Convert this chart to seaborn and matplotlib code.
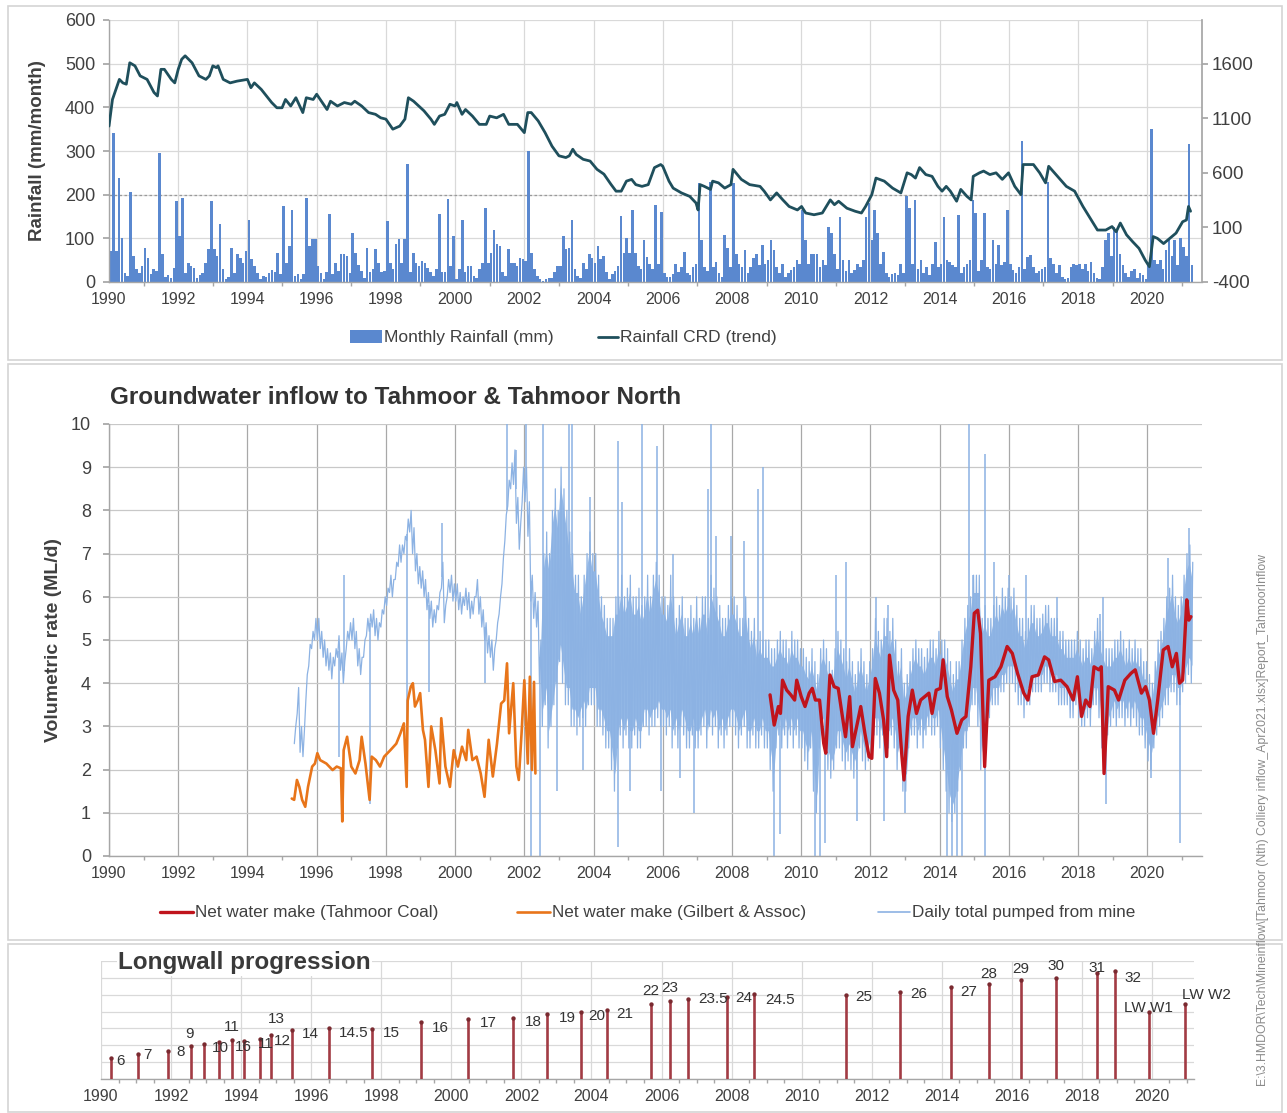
import numpy as np
import pandas as pd
import matplotlib
matplotlib.use("Agg")
import matplotlib.pyplot as plt
import seaborn as sns
from matplotlib.lines import Line2D
from matplotlib.patches import Rectangle

# ============================ DATA ============================
rain_first_year = 1990
rain_mm = [
    71, 342, 71, 239, 101, 21, 14, 205, 60, 29, 21, 37,      # 1990
    79, 56, 18, 29, 25, 296, 63, 12, 15, 10, 33, 185,        # 1991
    105, 193, 21, 44, 37, 33, 10, 15, 20, 44, 75, 185,       # 1992
    75, 60, 132, 30, 8, 12, 79, 20, 63, 56, 44, 71,          # 1993
    143, 52, 37, 20, 6, 14, 12, 20, 28, 22, 67, 18,          # 1994
    174, 44, 82, 166, 14, 18, 6, 18, 193, 82, 98, 98,        # 1995
    37, 20, 6, 22, 155, 18, 44, 25, 63, 63, 60, 20,          # 1996
    113, 67, 40, 25, 10, 79, 22, 30, 75, 44, 22, 25,         # 1997
    140, 44, 30, 86, 98, 44, 98, 270, 22, 67, 44, 37,        # 1998
    48, 44, 33, 22, 14, 30, 155, 22, 22, 190, 37, 105,       # 1999
    6, 30, 143, 22, 37, 37, 14, 10, 30, 44, 170, 44,         # 2000
    67, 120, 86, 82, 22, 14, 75, 44, 44, 37, 56, 52,         # 2001
    48, 300, 67, 30, 14, 6, 3, 6, 10, 10, 22, 37,            # 2002
    37, 105, 75, 79, 143, 30, 14, 10, 44, 30, 63, 56,        # 2003
    44, 82, 52, 60, 22, 6, 18, 25, 37, 151, 67, 101,         # 2004
    67, 166, 67, 37, 30, 96, 58, 42, 30, 177, 42, 160,       # 2005
    20, 12, 12, 18, 42, 22, 35, 69, 20, 15, 35, 42,          # 2006
    227, 96, 35, 25, 228, 35, 45, 20, 12, 108, 77, 35,       # 2007
    227, 65, 42, 35, 73, 20, 35, 55, 65, 40, 85, 42,         # 2008
    50, 96, 73, 35, 20, 42, 12, 20, 28, 35, 50, 42,          # 2009
    165, 96, 42, 65, 65, 65, 35, 50, 40, 127, 112, 65,       # 2010
    30, 150, 50, 25, 50, 20, 28, 42, 35, 50, 150, 180,       # 2011
    96, 165, 112, 42, 69, 20, 12, 18, 20, 15, 42, 20,        # 2012
    196, 169, 42, 188, 30, 50, 20, 35, 15, 42, 92, 35,       # 2013
    42, 150, 50, 45, 40, 35, 154, 20, 35, 42, 50, 188,       # 2014
    158, 25, 50, 158, 35, 30, 96, 42, 85, 40, 45, 165,       # 2015
    42, 28, 20, 35, 323, 30, 58, 62, 35, 20, 25, 30,         # 2016
    35, 230, 55, 42, 20, 38, 12, 8, 10, 35, 42, 38,          # 2017
    42, 30, 42, 25, 46, 20, 10, 8, 35, 96, 112, 60,          # 2018
    127, 119, 65, 38, 20, 12, 25, 30, 10, 20, 15, 8,         # 2019
    40, 350, 50, 42, 50, 30, 73, 96, 60, 96, 40, 100,        # 2020
    80, 60, 315, 40,                                         # 2021
]

crd_year = [
    1990.0, 1990.1, 1990.3, 1990.4, 1990.5, 1990.6, 1990.75, 1990.9, 1991.1, 1991.3,
    1991.4, 1991.5, 1991.6, 1991.8, 1991.9, 1992.0, 1992.1, 1992.2, 1992.4, 1992.6,
    1992.8, 1992.9, 1993.0, 1993.1, 1993.15, 1993.3, 1993.5, 1993.7, 1994.0, 1994.1,
    1994.2, 1994.4, 1994.7, 1994.85, 1995.0, 1995.1, 1995.25, 1995.4, 1995.6, 1995.7,
    1995.9, 1996.0, 1996.3, 1996.4, 1996.6, 1996.8, 1997.0, 1997.1, 1997.3, 1997.5,
    1997.7, 1997.85, 1998.0, 1998.2, 1998.4, 1998.55, 1998.65, 1998.8, 1999.1, 1999.3,
    1999.4, 1999.55, 1999.7, 1999.85, 2000.0, 2000.05, 2000.2, 2000.3, 2000.5, 2000.7,
    2000.9, 2001.0, 2001.2, 2001.4, 2001.55, 2001.8, 2002.0, 2002.1, 2002.2, 2002.4,
    2002.6, 2002.8, 2003.0, 2003.2, 2003.3, 2003.4, 2003.5, 2003.7, 2003.9, 2004.1,
    2004.3, 2004.5, 2004.65, 2004.8, 2004.95, 2005.1, 2005.22, 2005.4, 2005.58, 2005.76,
    2005.94, 2006.0, 2006.18, 2006.3, 2006.54, 2006.78, 2006.96, 2007.02, 2007.08, 2007.2,
    2007.38, 2007.44, 2007.61, 2007.79, 2007.97, 2008.03, 2008.27, 2008.51, 2008.81, 2008.93,
    2009.11, 2009.29, 2009.47, 2009.65, 2009.89, 2010.01, 2010.13, 2010.37, 2010.61, 2010.84,
    2010.96, 2011.08, 2011.32, 2011.56, 2011.74, 2011.86, 2012.04, 2012.16, 2012.4, 2012.64,
    2012.88, 2013.06, 2013.18, 2013.3, 2013.42, 2013.6, 2013.78, 2013.95, 2014.07, 2014.19,
    2014.31, 2014.49, 2014.61, 2014.79, 2014.91, 2014.97, 2015.15, 2015.27, 2015.45, 2015.63,
    2015.81, 2015.99, 2016.17, 2016.35, 2016.41, 2016.71, 2016.89, 2017.06, 2017.15, 2017.36,
    2017.66, 2017.9, 2018.14, 2018.38, 2018.56, 2018.8, 2018.98, 2019.1, 2019.22, 2019.4,
    2019.58, 2019.76, 2019.94, 2020.06, 2020.17, 2020.29, 2020.47, 2020.65, 2020.83, 2021.02,
    2021.13, 2021.19, 2021.25,
]
crd_mm = [
    1028, 1272, 1456, 1424, 1412, 1608, 1580, 1488, 1456, 1336,
    1304, 1548, 1548, 1456, 1424, 1548, 1640, 1672, 1608, 1488,
    1456, 1488, 1580, 1564, 1580, 1456, 1424, 1440, 1456, 1380,
    1424, 1364, 1244, 1196, 1196, 1272, 1212, 1288, 1152, 1288,
    1272, 1320, 1180, 1256, 1212, 1244, 1228, 1256, 1212, 1152,
    1136, 1104, 1092, 1000, 1028, 1092, 1288, 1256, 1168, 1092,
    1044, 1120, 1136, 1228, 1212, 1244, 1136, 1180, 1120, 1044,
    1044, 1120, 1104, 1136, 1044, 1044, 968, 1152, 1152, 1076,
    968, 844, 756, 740, 756, 816, 768, 724, 708, 632,
    588, 496, 432, 432, 524, 540, 492, 476, 492, 648,
    676, 660, 524, 460, 416, 384, 324, 260, 492, 476,
    448, 524, 508, 460, 492, 632, 540, 492, 476, 432,
    352, 416, 352, 292, 260, 292, 232, 216, 232, 352,
    308, 340, 276, 248, 232, 292, 400, 552, 524, 460,
    416, 600, 584, 552, 648, 584, 568, 476, 432, 476,
    432, 340, 448, 384, 352, 568, 600, 616, 584, 600,
    540, 600, 476, 400, 676, 676, 600, 508, 660, 584,
    476, 432, 292, 168, 76, 76, 108, 60, 140, 32,
    -32, -92, -200, -260, 16, 0, -48, 0, 48, 152,
    168, 292, 248,
]

# Daily total pumped: monthly low / high envelope from May 1995 to Apr 2021
daily_first_year, daily_first_month = 1995, 5
daily_lo = [
    2.6, 3.3, 2.4, 2.3, 3.6, 4.4, 4.8, 5.0,
    5.0, 4.8, 4.6, 4.4, 4.3, 4.1, 4.4, 4.6, 4.3, 4.0, 4.8, 5.0,
    5.0, 4.8, 4.4, 4.2, 4.6, 5.1, 5.2, 5.3, 5.1, 5.0, 5.3, 5.6,
    5.8, 6.1, 6.0, 6.4, 6.7, 6.8, 7.0, 7.3, 7.5, 7.0, 6.6, 6.3,
    6.2, 6.0, 5.7, 5.5, 5.3, 5.4, 5.7, 6.2, 5.4, 6.0, 6.1, 5.9,
    5.9, 5.7, 5.6, 5.8, 5.7, 5.5, 5.6, 6.0, 5.6, 5.3, 5.0, 4.7,
    4.6, 4.3, 5.0, 5.6, 6.3, 7.3, 8.1, 8.5, 8.6, 7.7, 7.1, 8.2,
    8.2, 7.4, 5.9, 5.5, 5.3, 4.0, 3.0, 3.5, 2.5, 3.0, 3.5, 4.0,
    4.5, 4.0, 3.5, 3.5, 3.0, 3.0, 2.8, 3.0, 3.2, 3.0, 3.5, 3.5,
    3.5, 3.0, 3.0, 2.8, 2.5, 2.5, 2.0, 1.5, 2.5, 2.8, 2.5, 2.8,
    2.5, 2.5, 2.8, 2.5, 2.5, 3.0, 3.0, 2.8, 3.0, 3.0, 3.2, 3.0,
    3.0, 2.8, 3.0, 2.5, 2.8, 2.5, 3.0, 2.8, 2.5, 2.5, 2.8, 2.5,
    2.5, 2.8, 3.0, 2.5, 3.0, 2.8, 3.0, 2.5, 2.8, 2.5, 2.8, 3.0,
    3.0, 2.8, 2.5, 2.8, 3.0, 2.5, 2.5, 2.8, 2.5, 2.5, 2.8, 2.5,
    2.5, 2.0, 1.5, 2.5, 2.8, 2.5, 2.8, 2.5, 2.8, 2.5, 2.8, 2.5,
    2.5, 2.2, 2.0, 2.5, 1.5, 1.0, 2.5, 2.8, 2.5, 2.0, 1.8, 2.0,
    2.5, 2.5, 2.2, 2.0, 2.2, 2.0, 1.8, 2.0, 2.5, 2.2, 2.0, 2.2,
    2.5, 2.8, 2.8, 2.5, 2.8, 2.5, 2.5, 2.8, 2.5, 2.0, 2.5, 1.5,
    1.5, 2.5, 2.8, 2.8, 2.5, 2.8, 2.5, 2.8, 3.0, 2.8, 2.8, 3.0,
    2.5, 2.0, 1.5, 1.0, 0.8, 1.0, 1.5, 2.0, 2.5, 2.5, 3.0, 3.5,
    3.5, 3.0, 2.0, 2.5, 3.0, 3.2, 3.5, 3.5, 3.5, 3.8, 3.8, 4.0,
    4.0, 4.0, 3.8, 3.5, 3.5, 3.2, 3.5, 3.5, 3.8, 3.8, 3.8, 3.8,
    4.0, 4.0, 3.8, 3.8, 3.8, 3.5, 3.5, 3.5, 3.5, 3.2, 3.2, 3.5,
    3.2, 3.0, 3.0, 3.2, 3.0, 3.5, 3.5, 3.2, 2.5, 2.0, 2.8, 3.0,
    3.2, 3.0, 3.2, 3.2, 3.0, 3.2, 3.0, 3.2, 3.0, 2.8, 2.8, 2.5,
    2.2, 2.0, 2.5, 2.8, 3.0, 3.2, 3.5, 3.5, 3.8, 3.8, 3.5, 3.5,
    3.8, 4.0, 4.2, 4.0,
]
daily_hi = [
    3.0, 3.9, 3.0, 2.9, 4.2, 4.9, 5.2, 5.5,
    5.5, 5.2, 5.0, 4.8, 4.7, 4.6, 4.8, 5.1, 4.7, 4.5, 5.2, 5.4,
    5.5, 5.2, 4.8, 4.6, 5.0, 5.5, 5.6, 5.7, 5.5, 5.4, 5.7, 6.0,
    6.2, 6.5, 6.4, 6.8, 7.2, 7.2, 7.4, 7.8, 8.0, 7.6, 7.0, 6.7,
    6.6, 6.4, 6.1, 5.9, 5.7, 5.8, 6.1, 6.8, 5.8, 6.4, 6.5, 6.3,
    6.3, 6.1, 6.0, 6.2, 6.1, 5.9, 6.0, 6.4, 6.0, 5.7, 5.4, 5.1,
    5.0, 4.8, 5.4, 6.0, 6.9, 7.9, 8.7, 9.1, 9.4, 8.3, 7.7, 9.0,
    9.0, 8.2, 6.5, 6.1, 5.9, 5.0, 7.0, 7.5, 7.0, 8.0, 8.5, 8.0,
    9.0, 8.5, 8.0, 7.5, 7.0, 6.5, 6.5, 6.0, 6.5, 7.0, 7.5, 7.0,
    7.0, 6.5, 6.0, 5.8, 5.5, 5.5, 5.5, 6.0, 6.0, 6.5, 6.0, 6.2,
    6.5, 6.0, 6.0, 6.2, 5.8, 6.0, 6.5, 6.0, 6.5, 6.8, 6.5, 6.0,
    6.0, 5.8, 6.5, 6.0, 5.5, 5.8, 6.0, 5.5, 5.5, 5.8, 5.5, 6.0,
    5.5, 6.0, 6.0, 5.5, 6.5, 6.2, 6.0, 5.8, 5.5, 5.5, 5.8, 6.0,
    6.0, 5.8, 5.5, 5.5, 6.0, 5.5, 5.2, 5.5, 5.0, 5.2, 5.0, 5.0,
    5.0, 4.8, 4.8, 5.0, 5.2, 5.0, 5.0, 4.8, 5.2, 5.0, 5.0, 4.8,
    4.8, 4.6, 4.5, 4.8, 4.5, 4.2, 4.8, 5.0, 4.8, 4.5, 4.3, 4.8,
    5.2, 5.0, 4.8, 4.5, 4.8, 4.5, 4.2, 4.5, 4.8, 4.5, 4.2, 4.5,
    4.8, 5.5, 5.2, 5.0, 5.5, 5.5, 5.2, 5.5, 5.0, 4.5, 4.8, 4.0,
    4.2, 4.5, 4.8, 5.0, 4.8, 4.8, 4.6, 4.8, 5.0, 5.0, 4.8, 5.2,
    5.0, 5.0, 4.8, 4.5, 4.2, 4.5, 4.5, 5.0, 5.5, 5.8, 6.0, 6.5,
    6.5, 6.5, 5.5, 5.8, 5.5, 5.5, 5.8, 6.0, 5.8, 6.2, 6.0, 6.2,
    6.0, 6.2, 5.8, 5.5, 5.5, 5.2, 5.5, 5.8, 5.8, 5.5, 5.5, 5.6,
    5.8, 5.8, 5.5, 5.5, 5.5, 5.2, 5.2, 5.0, 5.0, 5.0, 5.0, 5.2,
    5.0, 4.8, 5.0, 5.0, 4.8, 5.2, 5.5, 5.2, 5.0, 4.8, 4.8, 4.8,
    5.0, 5.0, 5.2, 5.0, 4.8, 5.0, 4.8, 5.0, 4.8, 4.8, 4.5, 4.5,
    4.2, 4.0, 4.5, 5.0, 5.2, 5.5, 6.0, 6.2, 6.5, 6.0, 5.8, 6.0,
    6.5, 7.0, 7.2, 6.8,
]
spike_year = [
    1996.65, 1996.78, 1997.53, 1998.60, 1999.25, 1999.62, 2000.85, 2001.50, 2001.75, 2002.05,
    2002.20, 2002.45, 2002.55, 2002.95, 2003.28, 2003.38, 2003.70, 2003.90, 2004.70, 2004.72,
    2004.82, 2005.05, 2005.40, 2005.82, 2005.95, 2006.30, 2006.50, 2006.90, 2007.30, 2007.38,
    2007.55, 2007.97, 2008.36, 2008.75, 2008.90, 2009.20, 2009.40, 2010.40, 2010.55, 2010.70,
    2011.00, 2011.30, 2011.60, 2012.15, 2012.40, 2012.50, 2013.00, 2014.20, 2014.35, 2014.50,
    2014.65, 2014.85, 2014.95, 2015.30, 2015.32, 2015.57, 2016.00, 2016.50, 2017.40, 2018.62,
    2018.73, 2018.80, 2020.10, 2020.60, 2020.95, 2021.20,
]
spike_val = [
    2.3, 6.5, 1.2, 1.6, 3.8, 7.7, 4.0, 10.0, 9.4, 10.0,
    0.0, 0.0, 10.0, 1.5, 10.0, 10.0, 2.0, 8.3, 9.6, 0.2,
    8.2, 1.5, 10.0, 9.5, 1.5, 7.0, 1.8, 1.0, 8.5, 10.0,
    7.4, 7.4, 7.3, 8.5, 9.0, 0.0, 0.5, 0.0, 0.0, 0.3,
    6.5, 6.8, 0.8, 6.0, 0.8, 5.8, 1.0, 0.0, 0.0, 0.0,
    0.0, 10.0, 6.5, 9.3, 0.0, 6.8, 6.5, 6.5, 6.0, 5.6,
    6.0, 1.2, 1.8, 6.9, 0.3, 7.6,
]

gilbert_year = [
    1995.28, 1995.35, 1995.43, 1995.50, 1995.58, 1995.67, 1995.75, 1995.87, 1995.95, 1996.02,
    1996.10, 1996.28, 1996.46, 1996.58, 1996.70, 1996.74, 1996.78, 1996.88, 1997.00, 1997.12,
    1997.24, 1997.30, 1997.41, 1997.53, 1997.59, 1997.71, 1997.83, 1997.95, 1998.13, 1998.30,
    1998.42, 1998.52, 1998.60, 1998.63, 1998.72, 1998.78, 1998.84, 1998.92, 1998.99, 1999.07,
    1999.13, 1999.23, 1999.31, 1999.43, 1999.55, 1999.60, 1999.72, 1999.85, 1999.96, 2000.08,
    2000.20, 2000.32, 2000.38, 2000.50, 2000.62, 2000.74, 2000.85, 2000.97, 2001.09, 2001.21,
    2001.33, 2001.42, 2001.50, 2001.56, 2001.68, 2001.77, 2001.84, 2001.92, 2002.00, 2002.10,
    2002.16, 2002.22, 2002.28, 2002.32,
]
gilbert_val = [
    1.33, 1.30, 1.76, 1.60, 1.30, 1.14, 1.60, 2.07, 2.14, 2.38,
    2.22, 2.14, 1.99, 2.07, 2.03, 0.80, 2.45, 2.76, 2.07, 1.91,
    2.22, 2.76, 2.14, 1.30, 2.30, 2.22, 2.07, 2.30, 2.45, 2.60,
    2.84, 3.07, 1.60, 3.60, 3.92, 4.00, 3.46, 3.60, 3.77, 2.92,
    2.69, 1.60, 3.00, 2.45, 1.68, 3.19, 2.07, 1.60, 2.45, 2.07,
    2.53, 2.22, 2.92, 2.22, 2.30, 1.91, 1.37, 2.69, 1.84, 2.60,
    3.53, 3.60, 4.46, 2.84, 4.00, 2.07, 1.76, 2.84, 4.07, 2.14,
    4.15, 1.99, 4.03, 1.91,
]

tahmoor_year = [
    2009.10, 2009.22, 2009.34, 2009.40, 2009.46, 2009.58, 2009.70, 2009.81, 2009.87, 2010.00,
    2010.11, 2010.23, 2010.32, 2010.41, 2010.53, 2010.65, 2010.71, 2010.83, 2010.95, 2011.07,
    2011.19, 2011.28, 2011.40, 2011.48, 2011.60, 2011.72, 2011.84, 2011.96, 2012.04, 2012.14,
    2012.26, 2012.38, 2012.47, 2012.55, 2012.67, 2012.79, 2012.91, 2012.97, 2013.09, 2013.21,
    2013.33, 2013.45, 2013.57, 2013.69, 2013.78, 2013.90, 2014.02, 2014.10, 2014.22, 2014.34,
    2014.50, 2014.64, 2014.76, 2014.90, 2015.00, 2015.10, 2015.18, 2015.30, 2015.42, 2015.60,
    2015.77, 2015.95, 2016.10, 2016.25, 2016.43, 2016.55, 2016.67, 2016.85, 2017.03, 2017.15,
    2017.32, 2017.50, 2017.68, 2017.86, 2017.98, 2018.10, 2018.22, 2018.34, 2018.46, 2018.60,
    2018.67, 2018.75, 2018.87, 2019.05, 2019.17, 2019.35, 2019.53, 2019.65, 2019.83, 2019.95,
    2020.06, 2020.18, 2020.30, 2020.46, 2020.60, 2020.72, 2020.84, 2020.93, 2021.02, 2021.14,
    2021.20, 2021.26,
]
tahmoor_val = [
    3.73, 3.03, 3.46, 3.30, 4.07, 3.84, 3.73, 3.61, 4.07, 3.69,
    3.46, 3.77, 3.88, 3.61, 3.61, 2.61, 2.38, 4.19, 3.92, 3.88,
    3.23, 2.76, 3.69, 2.53, 2.99, 3.46, 2.84, 2.30, 2.26, 4.11,
    3.77, 3.15, 2.30, 4.65, 3.84, 3.61, 2.30, 1.76, 3.23, 3.84,
    3.30, 3.61, 3.69, 3.77, 3.30, 3.84, 3.88, 4.54, 3.69, 3.38,
    2.84, 3.15, 3.23, 4.38, 5.62, 5.69, 5.15, 2.07, 4.07, 4.15,
    4.38, 4.85, 4.69, 4.23, 3.77, 3.61, 4.15, 4.19, 4.61, 4.54,
    4.04, 4.07, 3.92, 3.61, 4.15, 3.23, 3.61, 3.46, 4.38, 4.31,
    4.38, 1.91, 3.92, 3.84, 3.61, 4.07, 4.23, 4.31, 3.77, 3.92,
    3.61, 2.84, 3.61, 4.77, 4.85, 4.38, 4.69, 4.00, 4.07, 5.93,
    5.46, 5.54,
]

lw_year = [
    1990.29, 1991.06, 1991.92, 1992.58, 1992.94, 1993.38, 1993.73, 1994.07, 1994.53, 1994.86,
    1995.46, 1996.50, 1997.73, 1999.13, 2000.49, 2001.77, 2002.74, 2003.70, 2004.43, 2005.70,
    2006.23, 2006.77, 2007.87, 2008.63, 2011.26, 2012.81, 2014.26, 2015.35, 2016.26, 2017.25,
    2018.42, 2018.95, 2019.91, 2020.94,
]
lw_height = [
    6.3, 7.5, 8.4, 9.7, 10.4, 11.0, 11.5, 11.3, 12.0, 13.0,
    14.6, 15.0, 14.9, 16.8, 17.7, 18.2, 19.4, 19.9, 20.4, 22.3,
    23.0, 23.6, 24.3, 25.2, 24.8, 25.9, 27.4, 28.2, 29.4, 30.1,
    31.4, 32.0, 19.9, 22.3,
]
lw_label = [
    "6", "7", "8", "9", "10", "11", "16", "11", "13", "12",
    "14", "14.5", "15", "16", "17", "18", "19", "20", "21", "22",
    "23", "23.5", "24", "24.5", "25", "26", "27", "28", "29", "30",
    "31", "32", "LW W1", "LW W2",
]

year_ticks = list(range(1990, 2021, 2))
rain_ticks = [0, 100, 200, 300, 400, 500, 600]
crd_ticks = [-400, 100, 600, 1100, 1600]
rate_ticks = list(range(0, 11))

# ============================ STYLE ============================
sns.set_theme(style="white")
plt.rcParams['font.family'] = ['Liberation Sans', 'DejaVu Sans']
plt.rcParams['axes.unicode_minus'] = False
TXT = '#404040'
GRID = '#D9D9D9'
SPINE = '#A6A6A6'
BAR_C = '#5A88CF'
CRD_C = '#1F4F5C'
DAILY_C = '#8CB2E3'
GIL_C = '#E8751A'
TAH_C = '#C0141C'
STEM_C = '#A23B44'

# label offsets for longwall labels (points) & alignment
lw_label_style = [
    (4, -2, 'left'), (4, -1, 'left'), (6, -1, 'left'), (-1, 9, 'center'), (6, -3, 'left'),
    (9, 11, 'center'), (2, -5, 'left'), (10, -2, 'left'), (12, 14, 'center'), (2, -4, 'left'),
    (7, -3, 'left'), (7, -3, 'left'), (8, -3, 'left'), (8, -4, 'left'), (8, -3, 'left'),
    (8, -3, 'left'), (8, -3, 'left'), (5, -3, 'left'), (7, -3, 'left'), (0, 9, 'center'),
    (0, 10, 'center'), (7, 0, 'left'), (6, -1, 'left'), (8, -4, 'left'), (7, -1, 'left'),
    (7, -2, 'left'), (7, -4, 'left'), (0, 7, 'center'), (0, 8, 'center'), (0, 8, 'center'),
    (0, 4, 'center'), (7, -5, 'left'), (0, 3, 'center'), (-2, 6, 'left'),
]

W, H = 1287, 1113
fig = plt.figure(figsize=(W / 100, H / 100), dpi=100)
fig.patch.set_facecolor('white')


def rect(l, t, r, b):
    return [l / W, 1 - b / H, (r - l) / W, (b - t) / H]


def style_axis(ax, xlim, ylab_size=13, ypad=5):
    ax.set_xlim(*xlim)
    ax.set_xticks(year_ticks)
    ax.set_xticklabels([str(y) for y in year_ticks])
    ax.set_xticks(np.arange(1990, 2022, 1), minor=True)
    ax.tick_params(axis='x', which='major', length=4, color=SPINE, labelsize=11.5,
                   labelcolor=TXT, pad=3)
    ax.tick_params(axis='x', which='minor', length=3, color=SPINE, bottom=True)
    ax.tick_params(axis='y', length=4, color=SPINE, labelsize=ylab_size, labelcolor=TXT,
                   left=True, pad=ypad)
    for s in ['top', 'right']:
        ax.spines[s].set_visible(False)
    for s in ['left', 'bottom']:
        ax.spines[s].set_color(SPINE)
        ax.spines[s].set_linewidth(1)
    ax.set_facecolor('none')
    ax.set_axisbelow(True)


# panel frames
for (l, t, r, b) in [(8, 6, 1282, 360), (8, 364, 1282, 940), (8, 944, 1282, 1112)]:
    fig.add_artist(Rectangle((l / W, 1 - b / H), (r - l) / W, (b - t) / H,
                             transform=fig.transFigure, fill=False,
                             edgecolor='#D4D4D4', lw=1.2))

# ---------------------------- TOP PANEL ----------------------------
ax1 = fig.add_axes(rect(109, 20, 1202, 282))
style_axis(ax1, (1990, 2021.58), ylab_size=13, ypad=6)
n_rain = len(rain_mm)
rain_x = rain_first_year + (np.arange(n_rain) + 0.5) / 12.0
ax1.bar(rain_x, rain_mm, width=0.075, color=BAR_C, linewidth=0, zorder=2)
ax1.set_ylim(0, 600)
ax1.set_yticks(rain_ticks)
ax1.grid(True, axis='both', color=GRID, lw=0.9)
ax1.axhline(200, color='#9A9A9A', lw=0.9, ls=(0, (2, 2)), zorder=1)
ax1.set_ylabel('Rainfall (mm/month)', fontsize=13.5, fontweight='bold', color=TXT)
ax1.yaxis.set_label_coords(-0.058, 0.5)

ax1r = ax1.twinx()
ax1r.set_xlim(1990, 2021.58)
sns.lineplot(x=crd_year, y=crd_mm, ax=ax1r, color=CRD_C, lw=2.0, sort=False,
             estimator=None)
ax1r.set_ylim(-400, 2000)
ax1r.set_yticks(crd_ticks)
ax1r.tick_params(axis='y', length=4, color=SPINE, labelsize=13.5, labelcolor=TXT,
                 right=True, pad=3)
for s in ['top', 'left', 'bottom']:
    ax1r.spines[s].set_visible(False)
ax1r.spines['right'].set_color(SPINE)
ax1r.set_ylabel('')
ax1r.grid(False)

# top legend
fig.add_artist(Rectangle((350 / W, 1 - 343 / H), 32 / W, 13 / H, transform=fig.transFigure,
                         color=BAR_C, lw=0))
fig.text(384 / W, 1 - 337 / H, 'Monthly Rainfall (mm)', fontsize=12.5, color=TXT,
         va='center', ha='left')
fig.add_artist(Line2D([598 / W, 618 / W], [1 - 337 / H, 1 - 337 / H], color=CRD_C, lw=2,
                      transform=fig.transFigure))
fig.text(620 / W, 1 - 337 / H, 'Rainfall CRD (trend)', fontsize=12.5, color=TXT,
         va='center', ha='left')

# ---------------------------- MIDDLE PANEL ----------------------------
ax2 = fig.add_axes(rect(109, 424, 1202, 856))
style_axis(ax2, (1990, 2021.58), ylab_size=13, ypad=9)
ax2.set_ylim(0, 10)
ax2.set_yticks(rate_ticks)
ax2.grid(True, axis='y', color='#C8C8C8', lw=0.9)
ax2.grid(True, axis='x', color='#A8A8A8', lw=0.9)

n_d = len(daily_lo)
m0 = daily_first_year + (daily_first_month - 1) / 12.0
t_month = m0 + np.arange(n_d) / 12.0
zig_x = np.column_stack([t_month + 0.25 / 12, t_month + 0.75 / 12]).ravel()
zig_y = np.column_stack([daily_lo, daily_hi]).ravel()
daily_df = pd.DataFrame({'year': zig_x, 'rate': zig_y})
dense = t_month >= 2002.4
ax2.fill_between(t_month[dense] + 0.5 / 12, np.array(daily_lo)[dense] + 0.4,
                 np.array(daily_hi)[dense] - 0.4, color='#93B8E6', lw=0, zorder=2)
sns.lineplot(data=daily_df, x='year', y='rate', ax=ax2, color=DAILY_C, lw=0.9,
             sort=False, estimator=None, zorder=2)
mid_band = (np.array(daily_lo) + np.array(daily_hi)) / 2.0
spike_base = np.interp(spike_year, t_month + 0.5 / 12, mid_band)
ax2.vlines(spike_year, spike_base, spike_val, color=DAILY_C, lw=1.1, zorder=2)

sns.lineplot(x=gilbert_year, y=gilbert_val, ax=ax2, color=GIL_C, lw=1.9, sort=False,
             estimator=None, zorder=3)
sns.lineplot(x=tahmoor_year, y=tahmoor_val, ax=ax2, color=TAH_C, lw=2.4, sort=False,
             estimator=None, zorder=4)
ax2.set_xlabel('')
ax2.set_ylabel('Volumetric rate (ML/d)', fontsize=14, fontweight='bold', color=TXT)
ax2.yaxis.set_label_coords(-0.043, 0.5)

fig.text(110 / W, 1 - 397 / H, 'Groundwater inflow to Tahmoor & Tahmoor North',
         fontsize=17.5, fontweight='bold', color='#333333', va='center', ha='left')

# middle legend
for (x0, x1, col, lw_, lab) in [(160, 193, TAH_C, 2.4, 'Net water make (Tahmoor Coal)'),
                                (517, 550, GIL_C, 1.9, 'Net water make (Gilbert & Assoc)'),
                                (878, 910, DAILY_C, 1.2, 'Daily total pumped from mine')]:
    fig.add_artist(Line2D([x0 / W, x1 / W], [1 - 912 / H, 1 - 912 / H], color=col, lw=lw_,
                          transform=fig.transFigure))
    fig.text((x1 + 2) / W, 1 - 912 / H, lab, fontsize=12.3, color=TXT, va='center',
             ha='left')

# ---------------------------- BOTTOM PANEL ----------------------------
ax3 = fig.add_axes(rect(101, 961, 1194, 1079))
style_axis(ax3, (1990, 2021.2))
ax3.set_xticks(np.arange(1990, 2021.5, 0.5), minor=True)
ax3.set_ylim(0, 35)
ax3.set_yticks(range(0, 36, 5))
ax3.tick_params(axis='y', left=False, labelleft=False)
ax3.spines['left'].set_visible(False)
ax3.grid(True, axis='both', color=GRID, lw=0.9)
ax3.vlines(lw_year, 0, lw_height, color=STEM_C, lw=1.9, zorder=3)
sns.scatterplot(x=lw_year, y=lw_height, ax=ax3, color='#7A2A30', s=10, marker='o',
                linewidth=0, zorder=4)
for yr, h, lab, (dx, dy, ha) in zip(lw_year, lw_height, lw_label, lw_label_style):
    ax3.annotate(lab, (yr, h), xytext=(dx, dy), textcoords='offset points', ha=ha,
                 va='center', fontsize=11, color='#333333', annotation_clip=False, zorder=5)
ax3.set_xlabel('')
ax3.set_ylabel('')

fig.text(118 / W, 1 - 963 / H, 'Longwall progression', fontsize=17.5, fontweight='bold',
         color='#3a3a3a', va='center', ha='left',
         bbox=dict(facecolor='white', edgecolor='none', pad=1))

# file path text on the right
fig.text(1263 / W, 1 - 820 / H,
         'E:\\3.HMDOR\\Tech\\Mineinflow\\[Tahmoor (Nth) Colliery inflow_Apr2021.xlsx]Report_TahmoorInflow',
         rotation=90, fontsize=8.8, color='#8A8A8A', va='center', ha='center')

fig.savefig('out.png', dpi=100)
